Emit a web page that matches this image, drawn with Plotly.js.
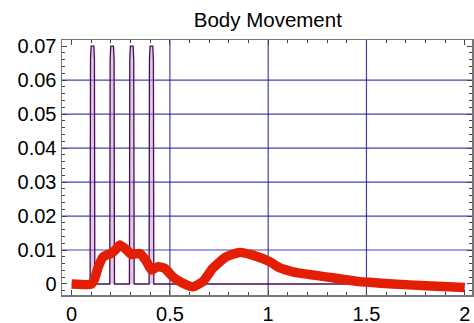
<!DOCTYPE html>
<html>
<head>
<meta charset="utf-8">
<script src="https://cdn.plot.ly/plotly-3.0.1.min.js"></script>
<style>html,body{margin:0;padding:0;background:#fff;}#chart{width:474px;height:323px;}</style>
</head>
<body>
<div id="chart"></div>
<script>
// Pulse (purple) series
const pulseX = [0, 0.094, 0.096, 0.099, 0.113, 0.116, 0.118,
                0.194, 0.196, 0.199, 0.213, 0.216, 0.218,
                0.294, 0.296, 0.299, 0.313, 0.316, 0.318,
                0.394, 0.396, 0.399, 0.413, 0.416, 0.418, 2.0];
const pulseY = [0, 0, 0.066, 0.07, 0.07, 0.066, 0,
                0, 0.066, 0.07, 0.07, 0.066, 0,
                0, 0.066, 0.07, 0.07, 0.066, 0,
                0, 0.066, 0.07, 0.07, 0.066, 0, 0];

// Movement (red) series
const moveX = [0, 0.1, 0.118, 0.136, 0.161, 0.186, 0.203, 0.225, 0.246, 0.28, 0.305, 0.347, 0.381, 0.406, 0.44, 0.474,
               0.515, 0.566, 0.617, 0.667, 0.718, 0.786, 0.854, 0.921, 1.006, 1.057, 1.125, 1.209, 1.294, 1.379,
               1.463, 1.514, 1.633, 1.802, 2.0];
const moveY = [0, 0, 0.0017, 0.0051, 0.008, 0.0087, 0.009, 0.0102, 0.0115, 0.010, 0.0087, 0.009, 0.0066, 0.0041, 0.0051, 0.0046,
               0.0021, 0.0002, -0.0008, 0.0007, 0.0046, 0.008, 0.0093, 0.0085, 0.0066, 0.0048, 0.0036, 0.0028, 0.0021, 0.0014,
               0.0007, 0.0005, 0.0, -0.0005, -0.001];

const xTickVals = [0, 0.5, 1, 1.5, 2];
const xTickText = ["0", "0.5", "1", "1.5", "2"];
const yTickVals = [0, 0.01, 0.02, 0.03, 0.04, 0.05, 0.06, 0.07];
const yTickText = ["0", "0.01", "0.02", "0.03", "0.04", "0.05", "0.06", "0.07"];
const gridX = [0.5, 1, 1.5];
const gridY = [0.01, 0.02, 0.03, 0.04, 0.05, 0.06];

const gridColor = 'rgba(20,20,150,0.8)';
const shapes = [];
gridX.forEach(v => shapes.push({type:'line', layer:'below', xref:'x', yref:'paper', x0:v, x1:v, y0:0, y1:1, line:{color:gridColor, width:1.2}}));
gridY.forEach(v => shapes.push({type:'line', layer:'below', xref:'paper', yref:'y', x0:0, x1:1, y0:v, y1:v, line:{color:gridColor, width:1.2}}));

const font = {family:'"Liberation Sans", Arial, sans-serif', size:20, color:'#000'};

const traces = [
  {x: pulseX, y: pulseY, type:'scatter', mode:'lines', fill:'tozeroy', fillcolor:'rgba(190,140,195,0.45)',
   line:{color:'#4a0c5c', width:1.3}, hoverinfo:'skip'},
  {x: moveX, y: moveY, type:'scatter', mode:'lines', line:{color:'#e31e02', width:9.5, shape:'spline', smoothing:0.5}, hoverinfo:'skip'}
];

const tickCol = '#444';
const layout = {
  width:474, height:323,
  margin:{l:62, r:2, t:40, b:28},
  paper_bgcolor:'#fff', plot_bgcolor:'#fff',
  showlegend:false,
  font: font,
  title:{text:'Body Movement', font:{family:font.family, size:20.5, color:'#000'}, x:0.565, xref:'container', xanchor:'center', y:0.94, yref:'container', yanchor:'middle'},
  xaxis:{range:[-0.049, 2.037], tickmode:'array', tickvals:xTickVals, ticktext:xTickText,
         ticks:'inside', ticklen:5, tickwidth:1, tickcolor:tickCol, mirror:'allticks',
         showline:true, linecolor:'#777', linewidth:1.5, showgrid:false, zeroline:false,
         minor:{tickmode:'linear', tick0:0, dtick:0.1, ticks:'inside', ticklen:3, tickcolor:tickCol, showgrid:false},
         tickfont:font},
  yaxis:{range:[-0.00324, 0.0718], tickmode:'array', tickvals:yTickVals, ticktext:yTickText,
         ticks:'inside', ticklen:5, tickwidth:1, tickcolor:tickCol, mirror:'allticks',
         showline:true, linecolor:'#777', linewidth:1.5, showgrid:false, zeroline:false,
         minor:{tickmode:'linear', tick0:0, dtick:0.002, ticks:'inside', ticklen:3, tickcolor:tickCol, showgrid:false},
         tickfont:font},
  shapes: shapes
};

Plotly.newPlot('chart', traces, layout, {staticPlot:true, displayModeBar:false});
</script>
</body>
</html>
